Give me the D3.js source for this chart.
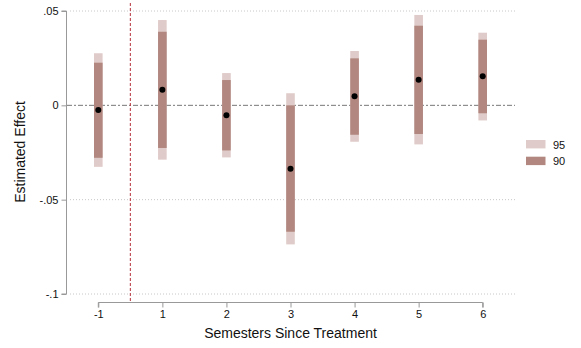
<!DOCTYPE html>
<html><head><meta charset="utf-8">
<script src="https://cdn.jsdelivr.net/npm/d3@7"></script>
<style>body{margin:0;background:#fff}svg{display:block}text{font-family:"Liberation Sans",Arial,sans-serif;fill:#111}</style>
</head><body><svg id="c" width="581" height="348"></svg>
<script>
const periods = ["-1", "1", "2", "3", "4", "5", "6"];
const estimate = [-0.0025, 0.0083, -0.0053, -0.0336, 0.0048, 0.0136, 0.0154];
const lo95 = [-0.0326, -0.0288, -0.0276, -0.0737, -0.0193, -0.0207, -0.0080];
const hi95 = [0.0276, 0.0452, 0.0171, 0.0064, 0.0288, 0.0479, 0.0385];
const lo90 = [-0.0278, -0.0226, -0.0239, -0.0670, -0.0156, -0.0152, -0.0042];
const hi90 = [0.0226, 0.0390, 0.0134, 0.0000, 0.0249, 0.0422, 0.0348];
const yTicks = [0.05, 0, -0.05, -0.1];
const yTickLabels = [".05", "0", "-.05", "-.1"];
const legendLabels = ["95", "90"];

const svg = d3.select("#c");
const x = d3.scalePoint().domain(periods).range([98.3, 482.7]);
const y = d3.scaleLinear().domain([-0.1, 0.05]).range([294, 11]);
const c95 = "#dfcbc9", c90 = "#b1877f";

// gridlines
svg.append("g").selectAll("line").data(yTicks.filter(d => d !== 0)).join("line")
  .attr("x1", 70).attr("x2", 515).attr("y1", d => y(d)).attr("y2", d => y(d))
  .attr("stroke", "#c8c8c8").attr("stroke-width", 1).attr("stroke-dasharray", "1,2");
// zero line
svg.append("line").attr("x1", 67).attr("x2", 515).attr("y1", y(0)).attr("y2", y(0))
  .attr("stroke", "#777").attr("stroke-width", 1).attr("stroke-dasharray", "5,2,2,2");
// treatment line, between -1 and 1
const xTreat = (x("-1") + x("1")) / 2;
svg.append("line").attr("x1", xTreat).attr("x2", xTreat).attr("y1", 3).attr("y2", 302)
  .attr("stroke", "#b5303a").attr("stroke-width", 1).attr("stroke-dasharray", "3,2");

const bw = 8.6;
const idx = d3.range(periods.length);
svg.append("g").selectAll("rect").data(idx).join("rect")
  .attr("x", i => x(periods[i]) - bw/2).attr("width", bw)
  .attr("y", i => y(hi95[i])).attr("height", i => y(lo95[i]) - y(hi95[i])).attr("fill", c95);
svg.append("g").selectAll("rect").data(idx).join("rect")
  .attr("x", i => x(periods[i]) - bw/2).attr("width", bw)
  .attr("y", i => y(hi90[i])).attr("height", i => y(lo90[i]) - y(hi90[i])).attr("fill", c90);
svg.append("g").selectAll("circle").data(idx).join("circle")
  .attr("cx", i => x(periods[i])).attr("cy", i => y(estimate[i])).attr("r", 3).attr("fill", "#000");

// y axis
const ya = svg.append("g").attr("transform", "translate(66.5,0)")
  .call(d3.axisLeft(y).tickValues(yTicks).tickFormat((d, i) => yTickLabels[i]).tickSize(5).tickPadding(3));
ya.select(".domain").attr("stroke", "#999").attr("d", `M-5,${y(0.05)}H0V${y(-0.1)}H-5`);
ya.selectAll(".tick line").attr("stroke", "#999");
ya.selectAll("text").style("font-size", "11px").attr("fill", "#111").style("font-family", '"Liberation Sans",Arial,sans-serif');

// x axis
const xa = svg.append("g").attr("transform", "translate(0,302.5)")
  .call(d3.axisBottom(x).tickSize(5).tickPadding(3));
xa.select(".domain").attr("stroke", "#999").attr("d", `M${x("-1")},5V0H${x("6")}V5`);
xa.selectAll(".tick line").attr("stroke", "#999");
xa.selectAll("text").style("font-size", "11px").attr("fill", "#111").style("font-family", '"Liberation Sans",Arial,sans-serif');

svg.append("text").attr("x", 290.5).attr("y", 337.5).attr("text-anchor", "middle")
  .style("font-size", "14px").text("Semesters Since Treatment");
svg.append("text").attr("transform", "translate(25,152) rotate(-90)").attr("text-anchor", "middle")
  .style("font-size", "14px").text("Estimated Effect");

// legend
const lg = svg.append("g").selectAll("g").data(legendLabels).join("g")
  .attr("transform", (d, i) => `translate(526,${140 + i * 16.7})`);
lg.append("rect").attr("width", 19.5).attr("height", 8.4).attr("fill", (d, i) => i === 0 ? c95 : c90);
lg.append("text").attr("x", 27).attr("y", 8.5).style("font-size", "11px").text(d => d);
</script></body></html>
